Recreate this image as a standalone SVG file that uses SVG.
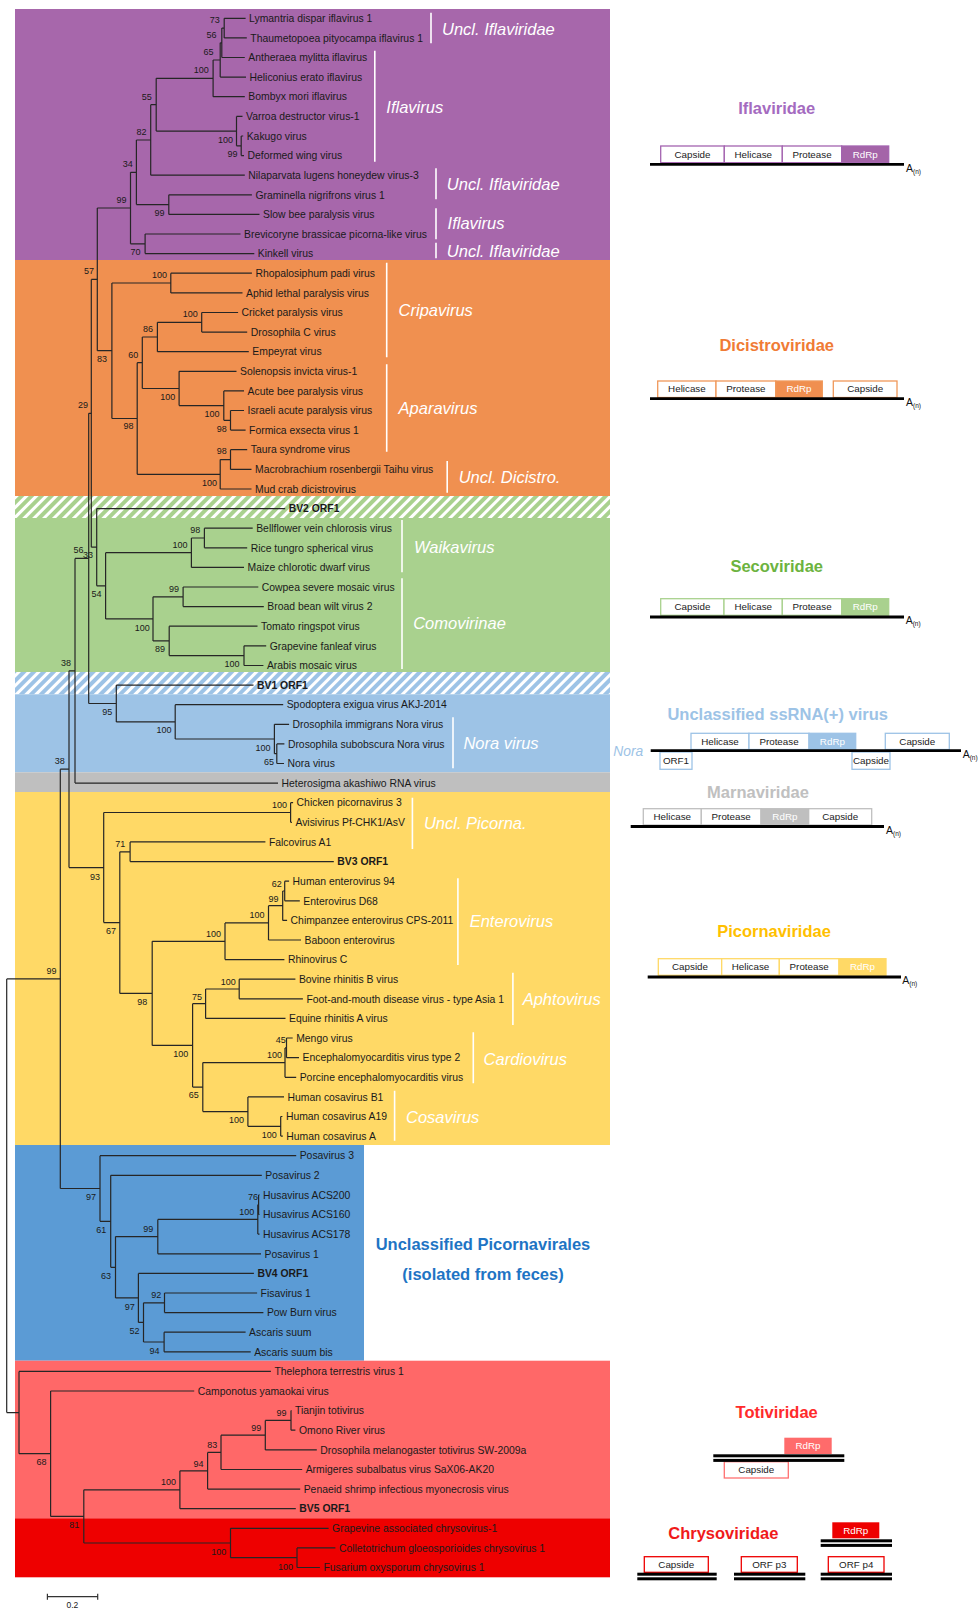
<svg xmlns="http://www.w3.org/2000/svg" width="980" height="1609" viewBox="0 0 980 1609">
<defs>
<pattern id="hg" width="7" height="7" patternUnits="userSpaceOnUse" patternTransform="rotate(45)"><rect width="7" height="7" fill="#fff"/><rect width="4" height="7" fill="#A9D18E"/></pattern>
<pattern id="hb" width="7" height="7" patternUnits="userSpaceOnUse" patternTransform="rotate(45)"><rect width="7" height="7" fill="#fff"/><rect width="4" height="7" fill="#9DC3E6"/></pattern>
</defs>
<style>
.lf{font-family:"Liberation Sans",Arial,sans-serif;font-size:10.4px;fill:#1a1a1a}
.bd{font-weight:bold}
.bs{font-family:"Liberation Sans",Arial,sans-serif;font-size:9px;fill:#1a1a1a;text-anchor:middle}
.cl{font-family:"Liberation Sans",Arial,sans-serif;font-size:16.5px;font-style:italic;fill:#fff}
.bar{stroke:#fff;stroke-width:1.6}
.tr{fill:none;stroke:#262626;stroke-width:1.2}
.ti{font-family:"Liberation Sans",Arial,sans-serif;font-size:16.5px;font-weight:bold;text-anchor:middle}
.bx{font-family:"Liberation Sans",Arial,sans-serif;font-size:9.8px;fill:#222;text-anchor:middle}
.wt{fill:#fff}
.an{font-family:"Liberation Sans",Arial,sans-serif;font-size:10.5px;fill:#111}
.rna{stroke:#000;stroke-width:2.8}
</style>
<rect width="980" height="1609" fill="#fff"/>
<g id="bands">
<rect x="15" y="9" width="595" height="251" fill="#A767AB"/>
<rect x="15" y="260" width="595" height="236" fill="#F09050"/>
<rect x="15" y="496" width="595" height="22" fill="url(#hg)"/>
<rect x="15" y="518" width="595" height="154" fill="#A9D18E"/>
<rect x="15" y="672" width="595" height="22.3" fill="url(#hb)"/>
<rect x="15" y="694.3" width="595" height="78" fill="#9DC3E6"/>
<rect x="15" y="772.3" width="595" height="19.7" fill="#BFBFBF"/>
<rect x="15" y="792" width="595" height="353" fill="#FFD966"/>
<rect x="15" y="1145" width="349" height="215.7" fill="#5B9BD5"/>
<rect x="15" y="1360.7" width="595" height="157.6" fill="#FF6868"/>
<rect x="15" y="1518.3" width="595" height="59" fill="#EE0000"/>
</g>
<g id="clade-labels">
<path class="bar" d="M431 12.7V43.3M374.8 50.7V161.7M436 168.3V199.3M436 208.3V239.3M436 242.7V258.3M386.7 262.7V357.3M386.7 364.3V451.7M447.2 461V492.7M402 520V572.3M402 578.3V669M453 717.3V768.3M412.4 797.7V849M457.9 878.3V965M512.9 972.7V1025M473.3 1032.3V1083.3M394.6 1090.7V1140.7"/>
<text class="cl" x="442" y="35.3">Uncl. Iflaviridae</text>
<text class="cl" x="386.3" y="112.7">Iflavirus</text>
<text class="cl" x="446.8" y="190">Uncl. Iflaviridae</text>
<text class="cl" x="447.6" y="228.7">Iflavirus</text>
<text class="cl" x="446.8" y="256.7">Uncl. Iflaviridae</text>
<text class="cl" x="398.6" y="316">Cripavirus</text>
<text class="cl" x="398.6" y="414.3">Aparavirus</text>
<text class="cl" x="458.7" y="483.3">Uncl. Dicistro.</text>
<text class="cl" x="414" y="552.7">Waikavirus</text>
<text class="cl" x="413.2" y="629.3">Comovirinae</text>
<text class="cl" x="463.4" y="748.7">Nora virus</text>
<text class="cl" x="423.9" y="829.3">Uncl. Picorna.</text>
<text class="cl" x="469.7" y="927">Enterovirus</text>
<text class="cl" x="522.7" y="1005">Aphtovirus</text>
<text class="cl" x="483.6" y="1065">Cardiovirus</text>
<text class="cl" x="406" y="1122.7">Cosavirus</text>
<text class="ti" x="483" y="1250" fill="#1E74C4">Unclassified Picornavirales</text>
<text class="ti" x="483" y="1280" fill="#1E74C4">(isolated from feces)</text>
</g>
<g id="connectors">
<path class="tr" d="M224.2 18.3V37.9M224.2 18.3H245.6M224.2 37.9H246.8
M221.8 28.1V57.5M221.8 28.1H224.2M221.8 57.5H244.8
M220.2 42.8V77.1M220.2 42.8H221.8M220.2 77.1H246
M213.1 60V96.7M213.1 60H220.2M213.1 96.7H244.8
M241.2 136V155.6M241.2 136H243.2M241.2 155.6H244
M236.5 116.4V145.8M236.5 116.4H242.5M236.5 145.8H241.2
M156.2 78.3V131.1M156.2 78.3H213.1M156.2 131.1H236.5
M150.7 104.7V175.2M150.7 104.7H156.2M150.7 175.2H244.8
M168.8 194.8V214.4M168.8 194.8H251.9M168.8 214.4H259.5
M136.4 140V204.6M136.4 140H150.7M136.4 204.6H168.8
M145.1 234V253.6M145.1 234H240.5M145.1 253.6H254.3
M130.5 172.3V243.8M130.5 172.3H136.4M130.5 243.8H145.1"/>
<path class="tr" d="M170.8 273.2V292.9M170.8 273.2H251.9M170.8 292.9H242.5
M201.7 312.5V332.1M201.7 312.5H238.1M201.7 332.1H247.2
M157.4 322.3V351.7M157.4 322.3H201.7M157.4 351.7H248.8
M230.5 410.5V430.1M230.5 410.5H244M230.5 430.1H245.6
M223.8 390.9V420.3M223.8 390.9H244M223.8 420.3H230.5
M179.1 371.3V405.6M179.1 371.3H236.5M179.1 405.6H223.8
M142.3 337V388.5M142.3 337H157.4M142.3 388.5H179.1
M230.5 449.7V469.4M230.5 449.7H247.2M230.5 469.4H251.5
M220.2 459.6V489M220.2 459.6H230.5M220.2 489H251.5
M137.2 362.7V474.3M137.2 362.7H142.3M137.2 474.3H220.2
M111.9 283V418.5M111.9 283H170.8M111.9 418.5H137.2
M97.3 208V350.7M97.3 208H130.5M97.3 350.7H111.9"/>
<path class="tr" d="M204.4 528.2V547.8M204.4 528.2H252.7M204.4 547.8H247.2
M191.4 538V567.4M191.4 538H204.4M191.4 567.4H244
M183.1 587V606.6M183.1 587H258.3M183.1 606.6H263.8
M244 645.8V665.5M244 645.8H266.2M244 665.5H263.4
M169.2 626.2V655.6M169.2 626.2H257.5M169.2 655.6H244
M153 596.8V640.9M153 596.8H183.1M153 640.9H169.2
M105.6 552.7V618.9M105.6 552.7H191.4M105.6 618.9H153
M96.7 508.6V585.8M96.7 508.6H285.2M96.7 585.8H105.6
M91.3 279.4V547.2M91.3 279.4H97.3M91.3 547.2H96.7"/>
<path class="tr" d="M276.8 743.9V763.5M276.8 743.9H284.4M276.8 763.5H284
M274.4 724.3V753.7M274.4 724.3H289.1M274.4 753.7H276.8
M175.2 704.7V739M175.2 704.7H283.2M175.2 739H274.4
M116.3 685.1V721.9M116.3 685.1H253.5M116.3 721.9H175.2
M88.7 413.3V703.5M88.7 413.3H91.3M88.7 703.5H116.3
M75 558.4V783.1M75 558.4H88.7M75 783.1H278"/>
<path class="tr" d="M290.6 802.7V822.3M290.6 802.7H293.1M290.6 822.3H291.9
M130.1 841.9V861.6M130.1 841.9H265.4M130.1 861.6H333.8
M284.7 881.2V900.8M284.7 881.2H289.1M284.7 900.8H299.8
M282.7 891V920.4M282.7 891H284.7M282.7 920.4H287.1
M268.5 905.7V940M268.5 905.7H282.7M268.5 940H301
M225 922.9V959.6M225 922.9H268.5M225 959.6H284.4
M239.2 979.2V998.8M239.2 979.2H295.4M239.2 998.8H302.9
M205.6 989V1018.4M205.6 989H239.2M205.6 1018.4H285.5
M286.5 1038V1057.7M286.5 1038H292.7M286.5 1057.7H299
M285 1047.9V1077.3M285 1047.9H286.5M285 1077.3H296.2
M280.7 1116.5V1136.1M280.7 1116.5H282.4M280.7 1136.1H282.8
M247.9 1096.9V1126.3M247.9 1096.9H284M247.9 1126.3H280.7
M202.8 1062.6V1111.6M202.8 1062.6H285M202.8 1111.6H247.9
M192.6 1003.7V1087.1M192.6 1003.7H205.6M192.6 1087.1H202.8
M152.2 941.3V1045.4M152.2 941.3H225M152.2 1045.4H192.6
M119.8 851.8V993.4M119.8 851.8H130.1M119.8 993.4H152.2
M103.7 812.5V922.6M103.7 812.5H290.6M103.7 922.6H119.8
M69 670.8V867.6M69 670.8H75M69 867.6H103.7"/>
<path class="tr" d="M258.6 1194.9V1214.5M258.6 1194.9H259.5M258.6 1214.5H259.5
M257.8 1204.7V1234.1M257.8 1204.7H258.6M257.8 1234.1H259.5
M157.8 1219.4V1253.8M157.8 1219.4H257.8M157.8 1253.8H261
M164.5 1293V1312.6M164.5 1293H257.1M164.5 1312.6H263.4
M164.1 1332.2V1351.8M164.1 1332.2H245.6M164.1 1351.8H250.7
M143.5 1302.8V1342M143.5 1302.8H164.5M143.5 1342H164.1
M138.4 1273.4V1322.4M138.4 1273.4H253.9M138.4 1322.4H143.5
M115.5 1236.6V1297.9M115.5 1236.6H157.8M115.5 1297.9H138.4
M110.7 1175.3V1267.3M110.7 1175.3H261.8M110.7 1267.3H115.5
M100 1155.7V1221.3M100 1155.7H296.2M100 1221.3H110.7
M60.3 769.2V1188.5M60.3 769.2H69M60.3 1188.5H100"/>
<path class="tr" d="M291 1410.6V1430.2M291 1410.6H291.5M291 1430.2H295.4
M265.3 1420.4V1449.9M265.3 1420.4H291M265.3 1449.9H316.8
M221 1435.2V1469.5M221 1435.2H265.3M221 1469.5H302.2
M207.6 1452.4V1489.1M207.6 1452.4H221M207.6 1489.1H300.2
M179.9 1470.8V1508.7M179.9 1470.8H207.6M179.9 1508.7H295.8
M297 1547.9V1567.5M297 1547.9H335.4M297 1567.5H319.9
M230.5 1528.3V1557.7M230.5 1528.3H328.6M230.5 1557.7H297
M83.8 1489.8V1543M83.8 1489.8H179.9M83.8 1543H230.5
M50.6 1391V1516.4M50.6 1391H194.2M50.6 1516.4H83.8
M19 1371.4V1453.7M19 1371.4H270.9M19 1453.7H50.6
M6.7 978.9V1412.6M6.7 978.9H60.3M6.7 1412.6H19"/>
</g>
<g id="leaves">
<g id="n1"><text class="lf" x="249.1" y="22">Lymantria dispar iflavirus 1</text></g>
<g id="n2"><text class="lf" x="250.3" y="41.6">Thaumetopoea pityocampa iflavirus 1</text></g>
<g id="n3"><text class="lf" x="248.3" y="61.2">Antheraea mylitta iflavirus</text></g>
<g id="n4"><text class="lf" x="249.5" y="80.8">Heliconius erato iflavirus</text></g>
<g id="n5"><text class="lf" x="248.3" y="100.4">Bombyx mori iflavirus</text></g>
<g id="n6"><text class="lf" x="246" y="120.1">Varroa destructor virus-1</text></g>
<g id="n7"><text class="lf" x="246.7" y="139.7">Kakugo virus</text></g>
<g id="n8"><text class="lf" x="247.5" y="159.3">Deformed wing virus</text></g>
<g id="n9"><text class="lf" x="248.3" y="178.9">Nilaparvata lugens honeydew virus-3</text></g>
<g id="n10"><text class="lf" x="255.4" y="198.5">Graminella nigrifrons virus 1</text></g>
<g id="n11"><text class="lf" x="263" y="218.1">Slow bee paralysis virus</text></g>
<g id="n12"><text class="lf" x="244" y="237.7">Brevicoryne brassicae picorna-like virus</text></g>
<g id="n13"><text class="lf" x="257.8" y="257.3">Kinkell virus</text></g>
<g id="n14"><text class="lf" x="255.4" y="276.9">Rhopalosiphum padi virus</text></g>
<g id="n15"><text class="lf" x="246" y="296.6">Aphid lethal paralysis virus</text></g>
<g id="n16"><text class="lf" x="241.6" y="316.2">Cricket paralysis virus</text></g>
<g id="n17"><text class="lf" x="250.7" y="335.8">Drosophila C virus</text></g>
<g id="n18"><text class="lf" x="252.3" y="355.4">Empeyrat virus</text></g>
<g id="n19"><text class="lf" x="240" y="375">Solenopsis invicta virus-1</text></g>
<g id="n20"><text class="lf" x="247.5" y="394.6">Acute bee paralysis virus</text></g>
<g id="n21"><text class="lf" x="247.5" y="414.2">Israeli acute paralysis virus</text></g>
<g id="n22"><text class="lf" x="249.1" y="433.8">Formica exsecta virus 1</text></g>
<g id="n23"><text class="lf" x="250.7" y="453.4">Taura syndrome virus</text></g>
<g id="n24"><text class="lf" x="255" y="473.1">Macrobrachium rosenbergii Taihu virus</text></g>
<g id="n25"><text class="lf" x="255" y="492.7">Mud crab dicistrovirus</text></g>
<g id="n26"><text class="lf bd" x="288.7" y="512.3">BV2 ORF1</text></g>
<g id="n27"><text class="lf" x="256.2" y="531.9">Bellflower vein chlorosis virus</text></g>
<g id="n28"><text class="lf" x="250.7" y="551.5">Rice tungro spherical virus</text></g>
<g id="n29"><text class="lf" x="247.5" y="571.1">Maize chlorotic dwarf virus</text></g>
<g id="n30"><text class="lf" x="261.8" y="590.7">Cowpea severe mosaic virus</text></g>
<g id="n31"><text class="lf" x="267.3" y="610.3">Broad bean wilt virus 2</text></g>
<g id="n32"><text class="lf" x="261" y="629.9">Tomato ringspot virus</text></g>
<g id="n33"><text class="lf" x="269.7" y="649.5">Grapevine fanleaf virus</text></g>
<g id="n34"><text class="lf" x="266.9" y="669.2">Arabis mosaic virus</text></g>
<g id="n35"><text class="lf bd" x="257" y="688.8">BV1 ORF1</text></g>
<g id="n36"><text class="lf" x="286.7" y="708.4">Spodoptera exigua virus AKJ-2014</text></g>
<g id="n37"><text class="lf" x="292.6" y="728">Drosophila immigrans Nora virus</text></g>
<g id="n38"><text class="lf" x="287.9" y="747.6">Drosophila subobscura Nora virus</text></g>
<g id="n39"><text class="lf" x="287.5" y="767.2">Nora virus</text></g>
<g id="n40"><text class="lf" x="281.5" y="786.8">Heterosigma akashiwo RNA virus</text></g>
<g id="n41"><text class="lf" x="296.6" y="806.4">Chicken picornavirus 3</text></g>
<g id="n42"><text class="lf" x="295.4" y="826">Avisivirus Pf-CHK1/AsV</text></g>
<g id="n43"><text class="lf" x="268.9" y="845.6">Falcovirus A1</text></g>
<g id="n44"><text class="lf bd" x="337.3" y="865.3">BV3 ORF1</text></g>
<g id="n45"><text class="lf" x="292.6" y="884.9">Human enterovirus 94</text></g>
<g id="n46"><text class="lf" x="303.3" y="904.5">Enterovirus D68</text></g>
<g id="n47"><text class="lf" x="290.6" y="924.1">Chimpanzee enterovirus CPS-2011</text></g>
<g id="n48"><text class="lf" x="304.5" y="943.7">Baboon enterovirus</text></g>
<g id="n49"><text class="lf" x="287.9" y="963.3">Rhinovirus C</text></g>
<g id="n50"><text class="lf" x="298.9" y="982.9">Bovine rhinitis B virus</text></g>
<g id="n51"><text class="lf" x="306.4" y="1002.5">Foot-and-mouth disease virus - type Asia 1</text></g>
<g id="n52"><text class="lf" x="289" y="1022.1">Equine rhinitis A virus</text></g>
<g id="n53"><text class="lf" x="296.2" y="1041.7">Mengo virus</text></g>
<g id="n54"><text class="lf" x="302.5" y="1061.4">Encephalomyocarditis virus type 2</text></g>
<g id="n55"><text class="lf" x="299.7" y="1081">Porcine encephalomyocarditis virus</text></g>
<g id="n56"><text class="lf" x="287.5" y="1100.6">Human cosavirus B1</text></g>
<g id="n57"><text class="lf" x="285.9" y="1120.2">Human cosavirus A19</text></g>
<g id="n58"><text class="lf" x="286.3" y="1139.8">Human cosavirus A</text></g>
<g id="n59"><text class="lf" x="299.7" y="1159.4">Posavirus 3</text></g>
<g id="n60"><text class="lf" x="265.3" y="1179">Posavirus 2</text></g>
<g id="n61"><text class="lf" x="263" y="1198.6">Husavirus ACS200</text></g>
<g id="n62"><text class="lf" x="263" y="1218.2">Husavirus ACS160</text></g>
<g id="n63"><text class="lf" x="263" y="1237.8">Husavirus ACS178</text></g>
<g id="n64"><text class="lf" x="264.5" y="1257.5">Posavirus 1</text></g>
<g id="n65"><text class="lf bd" x="257.4" y="1277.1">BV4 ORF1</text></g>
<g id="n66"><text class="lf" x="260.6" y="1296.7">Fisavirus 1</text></g>
<g id="n67"><text class="lf" x="266.9" y="1316.3">Pow Burn virus</text></g>
<g id="n68"><text class="lf" x="249.1" y="1335.9">Ascaris suum</text></g>
<g id="n69"><text class="lf" x="254.2" y="1355.5">Ascaris suum bis</text></g>
<g id="n70"><text class="lf" x="274.4" y="1375.1">Thelephora terrestris virus 1</text></g>
<g id="n71"><text class="lf" x="197.7" y="1394.7">Camponotus yamaokai virus</text></g>
<g id="n72"><text class="lf" x="295" y="1414.3">Tianjin totivirus</text></g>
<g id="n73"><text class="lf" x="298.9" y="1433.9">Omono River virus</text></g>
<g id="n74"><text class="lf" x="320.3" y="1453.6">Drosophila melanogaster totivirus SW-2009a</text></g>
<g id="n75"><text class="lf" x="305.7" y="1473.2">Armigeres subalbatus virus SaX06-AK20</text></g>
<g id="n76"><text class="lf" x="303.7" y="1492.8">Penaeid shrimp infectious myonecrosis virus</text></g>
<g id="n77"><text class="lf bd" x="299.3" y="1512.4">BV5 ORF1</text></g>
<g id="n78"><text class="lf" x="332.1" y="1532">Grapevine associated chrysovirus-1</text></g>
<g id="n79"><text class="lf" x="338.9" y="1551.6">Colletotrichum gloeosporioides chrysovirus 1</text></g>
<g id="n80"><text class="lf" x="323.4" y="1571.2">Fusarium oxysporum chrysovirus 1</text></g>
</g>
<g id="bootstrap">
<text class="bs" x="214.7" y="23.2">73</text>
<text class="bs" x="211.5" y="37.9">56</text>
<text class="bs" x="208.4" y="54.9">65</text>
<text class="bs" x="201.3" y="73.2">100</text>
<text class="bs" x="146.7" y="99.9">55</text>
<text class="bs" x="141.6" y="134.9">82</text>
<text class="bs" x="225.4" y="142.5">100</text>
<text class="bs" x="232.5" y="157.2">99</text>
<text class="bs" x="127.7" y="167.2">34</text>
<text class="bs" x="121.4" y="202.5">99</text>
<text class="bs" x="159.4" y="215.9">99</text>
<text class="bs" x="135.6" y="254.9">70</text>
<text class="bs" x="89" y="274.2">57</text>
<text class="bs" x="159.4" y="278.2">100</text>
<text class="bs" x="190.2" y="317.2">100</text>
<text class="bs" x="147.9" y="332.2">86</text>
<text class="bs" x="133.3" y="358.2">60</text>
<text class="bs" x="102" y="361.9">83</text>
<text class="bs" x="167.7" y="399.9">100</text>
<text class="bs" x="83" y="408.2">29</text>
<text class="bs" x="211.9" y="416.9">100</text>
<text class="bs" x="128.5" y="429.2">98</text>
<text class="bs" x="221.8" y="431.5">98</text>
<text class="bs" x="221.8" y="454.2">98</text>
<text class="bs" x="209.6" y="485.5">100</text>
<text class="bs" x="195.3" y="533.2">98</text>
<text class="bs" x="179.9" y="548.2">100</text>
<text class="bs" x="78.5" y="553.2">56</text>
<text class="bs" x="88" y="558.2">33</text>
<text class="bs" x="174" y="592.2">99</text>
<text class="bs" x="96.5" y="597.2">54</text>
<text class="bs" x="142.3" y="630.5">100</text>
<text class="bs" x="160.1" y="652.2">89</text>
<text class="bs" x="66" y="665.9">38</text>
<text class="bs" x="232.1" y="667.2">100</text>
<text class="bs" x="107.2" y="714.9">95</text>
<text class="bs" x="164.1" y="733.2">100</text>
<text class="bs" x="263" y="750.5">100</text>
<text class="bs" x="59.7" y="764.2">38</text>
<text class="bs" x="268.9" y="764.9">65</text>
<text class="bs" x="279.5" y="808.2">100</text>
<text class="bs" x="120.2" y="847.2">71</text>
<text class="bs" x="94.9" y="879.9">93</text>
<text class="bs" x="276.8" y="886.5">62</text>
<text class="bs" x="273.6" y="901.5">99</text>
<text class="bs" x="257" y="918.2">100</text>
<text class="bs" x="111.1" y="934.2">67</text>
<text class="bs" x="213.5" y="937.2">100</text>
<text class="bs" x="51.4" y="974.2">99</text>
<text class="bs" x="228.2" y="984.9">100</text>
<text class="bs" x="196.9" y="999.9">75</text>
<text class="bs" x="142.3" y="1004.9">98</text>
<text class="bs" x="280.7" y="1042.5">45</text>
<text class="bs" x="180.7" y="1056.5">100</text>
<text class="bs" x="274.4" y="1058.2">100</text>
<text class="bs" x="193.8" y="1098.2">65</text>
<text class="bs" x="236.5" y="1123.2">100</text>
<text class="bs" x="269.3" y="1138.2">100</text>
<text class="bs" x="253.1" y="1199.9">76</text>
<text class="bs" x="90.9" y="1199.9">97</text>
<text class="bs" x="246.7" y="1214.9">100</text>
<text class="bs" x="148.3" y="1232.2">99</text>
<text class="bs" x="101.2" y="1233.2">61</text>
<text class="bs" x="106" y="1278.9">63</text>
<text class="bs" x="156.2" y="1298.2">92</text>
<text class="bs" x="129.7" y="1309.9">97</text>
<text class="bs" x="134.4" y="1333.9">52</text>
<text class="bs" x="154.6" y="1353.9">94</text>
<text class="bs" x="281.5" y="1415.9">99</text>
<text class="bs" x="256.2" y="1430.5">99</text>
<text class="bs" x="212.3" y="1447.9">83</text>
<text class="bs" x="41.5" y="1465.2">68</text>
<text class="bs" x="198.5" y="1466.9">94</text>
<text class="bs" x="168.4" y="1485.2">100</text>
<text class="bs" x="74.3" y="1528.2">81</text>
<text class="bs" x="218.7" y="1554.5">100</text>
<text class="bs" x="285.5" y="1569.5">100</text>
</g>
<g id="scale-bar">
<path d="M47.4 1596.7H97.7M47.4 1593.7V1599.7M97.7 1593.7V1599.7" stroke="#333" stroke-width="1.2" fill="none"/>
<text class="bs" x="72.4" y="1608" style="font-size:8.5px">0.2</text>
</g>
<g id="genome-iflaviridae">
<text class="ti" x="776.7" y="114.3" fill="#A46BC0">Iflaviridae</text>
<g stroke="#A464B0" stroke-width="1.3"><rect x="660.7" y="146" width="63.6" height="16.7" fill="#fff"/><rect x="724.3" y="146" width="58" height="16.7" fill="#fff"/><rect x="782.3" y="146" width="59.4" height="16.7" fill="#fff"/><rect x="841.7" y="146" width="47" height="16.7" fill="#A464A8"/></g>
<line class="rna" x1="650" y1="164.3" x2="904" y2="164.3"/>
<text class="bx" x="692.5" y="157.9">Capside</text><text class="bx" x="753.3" y="157.9">Helicase</text><text class="bx" x="812" y="157.9">Protease</text><text class="bx wt" x="865.2" y="157.9">RdRp</text>
<text class="an" x="906" y="171.5">A<tspan font-size="6.5" dy="2">(n)</tspan></text>
</g>
<g id="genome-dicistroviridae">
<text class="ti" x="776.7" y="350.7" fill="#F07B35">Dicistroviridae</text>
<g stroke="#F0985A" stroke-width="1.3"><rect x="657.7" y="381" width="58.3" height="16.5" fill="#fff"/><rect x="716" y="381" width="59.7" height="16.5" fill="#fff"/><rect x="775.7" y="381" width="46.6" height="16.5" fill="#F08F50"/><rect x="833.3" y="381" width="63.7" height="16.5" fill="#fff"/></g>
<line class="rna" x1="650" y1="398.7" x2="904" y2="398.7"/>
<text class="bx" x="686.9" y="392.4">Helicase</text><text class="bx" x="745.9" y="392.4">Protease</text><text class="bx wt" x="799" y="392.4">RdRp</text><text class="bx" x="865.2" y="392.4">Capside</text>
<text class="an" x="906" y="405.8">A<tspan font-size="6.5" dy="2">(n)</tspan></text>
</g>
<g id="genome-secoviridae">
<text class="ti" x="776.7" y="571.7" fill="#6CB340">Secoviridae</text>
<g stroke="#A9D18E" stroke-width="1.3"><rect x="660.7" y="598.7" width="63.3" height="16.6" fill="#fff"/><rect x="724" y="598.7" width="58.3" height="16.6" fill="#fff"/><rect x="782.3" y="598.7" width="59.4" height="16.6" fill="#fff"/><rect x="841.7" y="598.7" width="47" height="16.6" fill="#A9D18E"/></g>
<line class="rna" x1="650" y1="617" x2="904" y2="617"/>
<text class="bx" x="692.4" y="610.4">Capside</text><text class="bx" x="753.2" y="610.4">Helicase</text><text class="bx" x="812" y="610.4">Protease</text><text class="bx wt" x="865.2" y="610.4">RdRp</text>
<text class="an" x="905.7" y="624">A<tspan font-size="6.5" dy="2">(n)</tspan></text>
</g>
<g id="genome-nora">
<text class="ti" x="777.7" y="720" fill="#9DC3E6">Unclassified ssRNA(+) virus</text>
<text x="613.3" y="755.5" style="font-family:'Liberation Sans',Arial,sans-serif;font-size:13.8px;font-style:italic;fill:#9DC3E6">Nora</text>
<g stroke="#9DC3E6" stroke-width="1.3"><rect x="691" y="733.3" width="58" height="16.2" fill="#fff"/><rect x="749" y="733.3" width="60" height="16.2" fill="#fff"/><rect x="809" y="733.3" width="46.7" height="16.2" fill="#9DC3E6"/><rect x="885.3" y="733.3" width="64" height="16.2" fill="#fff"/><rect x="660" y="752" width="32" height="17.3" fill="#fff"/><rect x="852" y="752" width="38" height="17.3" fill="#fff"/></g>
<line class="rna" x1="650.7" y1="750.7" x2="961" y2="750.7"/>
<text class="bx" x="720" y="744.8">Helicase</text><text class="bx" x="779" y="744.8">Protease</text><text class="bx wt" x="832.4" y="744.8">RdRp</text><text class="bx" x="917.3" y="744.8">Capside</text>
<text class="bx" x="676" y="764">ORF1</text><text class="bx" x="871" y="764">Capside</text>
<text class="an" x="962.7" y="757.8">A<tspan font-size="6.5" dy="2">(n)</tspan></text>
</g>
<g id="genome-marnaviridae">
<text class="ti" x="758" y="797.7" fill="#C0C0C0">Marnaviridae</text>
<g stroke="#BFBFBF" stroke-width="1.3"><rect x="643.3" y="808.7" width="58" height="16.3" fill="#fff"/><rect x="701.3" y="808.7" width="59.7" height="16.3" fill="#fff"/><rect x="761" y="808.7" width="47.7" height="16.3" fill="#BFBFBF"/><rect x="808.7" y="808.7" width="63" height="16.3" fill="#fff"/></g>
<line class="rna" x1="630.7" y1="826.5" x2="884" y2="826.5"/>
<text class="bx" x="672.3" y="820.3">Helicase</text><text class="bx" x="731.2" y="820.3">Protease</text><text class="bx wt" x="784.9" y="820.3">RdRp</text><text class="bx" x="840.2" y="820.3">Capside</text>
<text class="an" x="886" y="834">A<tspan font-size="6.5" dy="2">(n)</tspan></text>
</g>
<g id="genome-picornaviridae">
<text class="ti" x="774" y="937.3" fill="#FFC000">Picornaviridae</text>
<g stroke="#FFD966" stroke-width="1.3"><rect x="658.3" y="958.7" width="63.4" height="16.6" fill="#fff"/><rect x="721.7" y="958.7" width="57.6" height="16.6" fill="#fff"/><rect x="779.3" y="958.7" width="59.7" height="16.6" fill="#fff"/><rect x="839" y="958.7" width="47" height="16.6" fill="#FFD966"/></g>
<line class="rna" x1="647.7" y1="977" x2="901" y2="977"/>
<text class="bx" x="690" y="970.4">Capside</text><text class="bx" x="750.5" y="970.4">Helicase</text><text class="bx" x="809.2" y="970.4">Protease</text><text class="bx wt" x="862.5" y="970.4">RdRp</text>
<text class="an" x="902.3" y="984">A<tspan font-size="6.5" dy="2">(n)</tspan></text>
</g>
<g id="genome-totiviridae">
<text class="ti" x="776.7" y="1417.7" fill="#FF2B2B">Totiviridae</text>
<rect x="784.3" y="1437.7" width="47.4" height="16.3" fill="#FF6B6B"/>
<rect x="724.3" y="1461.7" width="64" height="16.3" fill="#fff" stroke="#FF7070" stroke-width="1.3"/>
<rect x="713.3" y="1454.3" width="131" height="3" fill="#000"/><rect x="713.3" y="1458.9" width="131" height="3" fill="#000"/>
<text class="bx wt" x="808" y="1449.3">RdRp</text><text class="bx" x="756.3" y="1473.3">Capside</text>
</g>
<g id="genome-chrysoviridae">
<text class="ti" x="723.3" y="1539.3" fill="#F01A1A">Chrysoviridae</text>
<rect x="832.3" y="1522.3" width="47" height="16" fill="#EE0000"/>
<rect x="820.7" y="1539.3" width="71.3" height="3" fill="#000"/><rect x="820.7" y="1543.9" width="71.3" height="3" fill="#000"/>
<text class="bx wt" x="855.8" y="1533.7">RdRp</text>
<g fill="#fff" stroke="#EE0000" stroke-width="1.3"><rect x="644.3" y="1556.7" width="64" height="15.6"/><rect x="741.3" y="1556.7" width="56" height="15.6"/><rect x="828.3" y="1556.7" width="55.7" height="15.6"/></g>
<g fill="#000"><rect x="637.3" y="1572.7" width="79.4" height="3"/><rect x="637.3" y="1577.3" width="79.4" height="3"/><rect x="734" y="1572.7" width="71.3" height="3"/><rect x="734" y="1577.3" width="71.3" height="3"/><rect x="820.7" y="1572.7" width="71.3" height="3"/><rect x="820.7" y="1577.3" width="71.3" height="3"/></g>
<text class="bx" x="676.3" y="1567.9">Capside</text><text class="bx" x="769.3" y="1567.9">ORF p3</text><text class="bx" x="856.2" y="1567.9">ORF p4</text>
</g>
</svg>
